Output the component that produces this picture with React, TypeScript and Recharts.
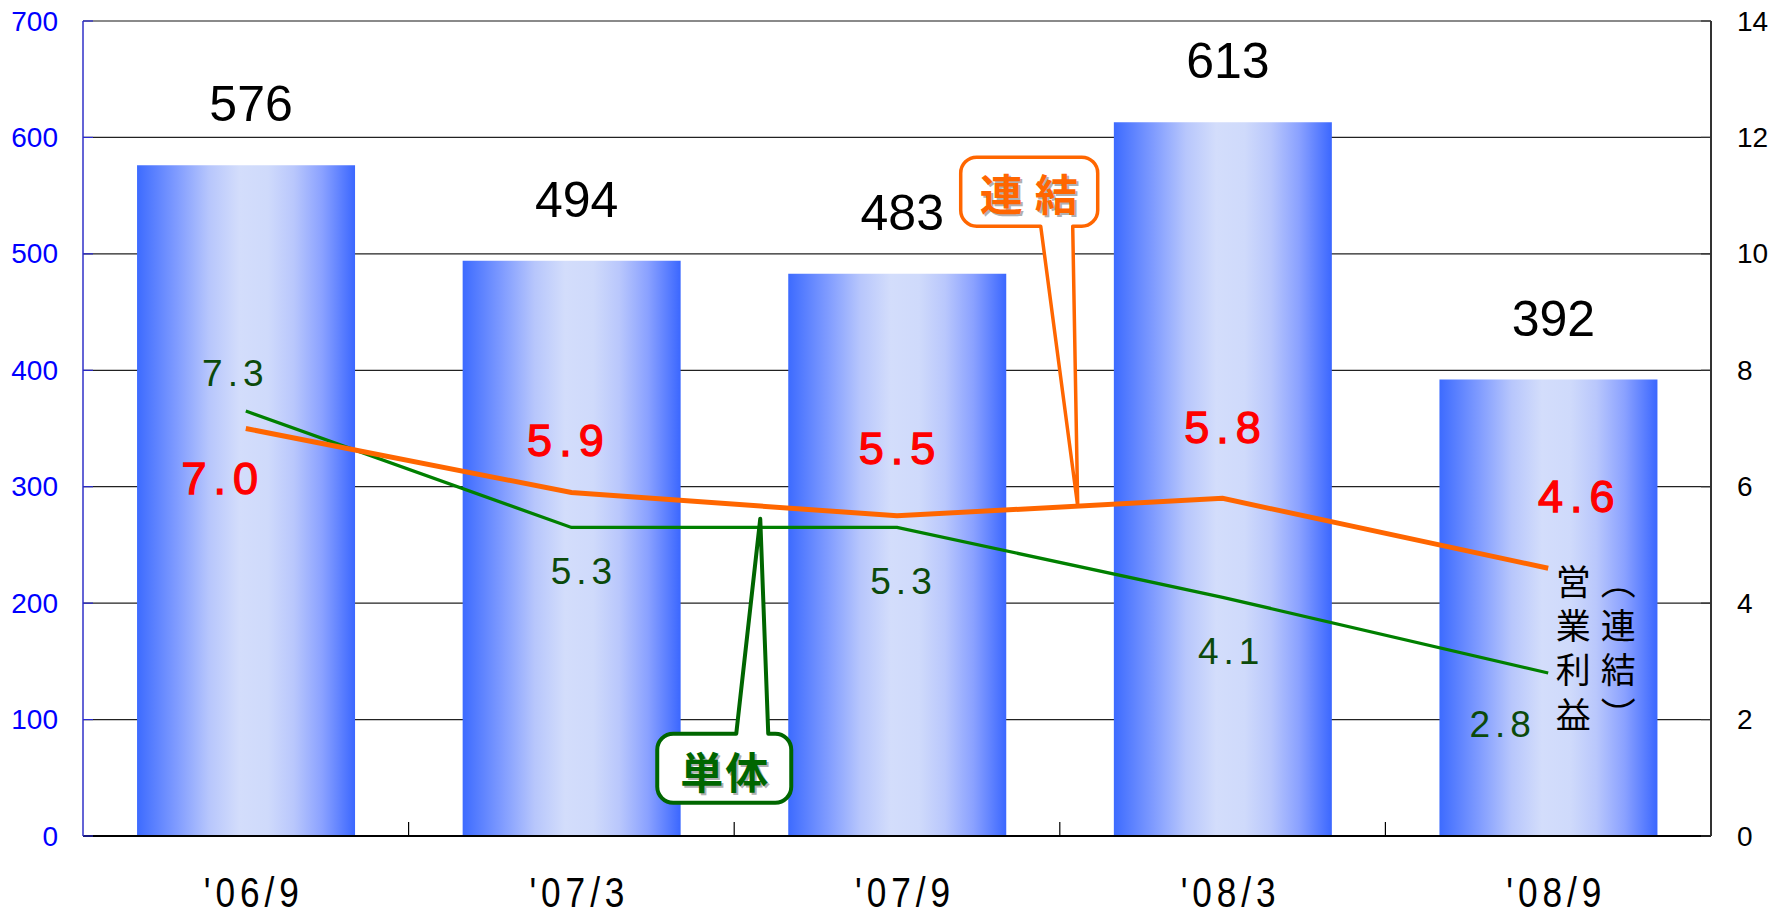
import React from "react";
import {
  Bar,
  CartesianGrid,
  ComposedChart,
  LabelList,
  Line,
  ReferenceDot,
  ReferenceLine,
  XAxis,
  YAxis,
} from "recharts";

// data
const periods = ["'06/9", "'07/3", "'07/9", "'08/3", "'08/9"];
const salesValues = [576, 494, 483, 613, 392];
const consolidatedProfit = [7.0, 5.9, 5.5, 5.8, 4.6];
const standaloneProfit = [7.3, 5.3, 5.3, 4.1, 2.8];
const leftTicks = [0, 100, 200, 300, 400, 500, 600, 700];
const rightTicks = [0, 2, 4, 6, 8, 10, 12, 14];
const verticalTitleLeft = ["営", "業", "利", "益"];
const verticalTitleRight = ["︵", "連", "結", "︶"];

// layout
const W = 1772;
const H = 914;
const TOP = 21;
const LEFT_W = 83;
const RIGHT_W = 61;
const XAXIS_H = 78;
const BAND = (W - LEFT_W - RIGHT_W) / periods.length;

// label placement relative to each point (dx, dy of text centre)
const consolidatedOffsets = [
  [-26, 50],
  [-6, -52],
  [0, -67],
  [0, -71],
  [28, -72],
];
const standaloneOffsets = [
  [-13, -38],
  [10, 44],
  [4, 54],
  [6, 54],
  [-48, 51],
];

const data = periods.map((p, i) => ({
  period: p,
  sales: salesValues[i],
  consolidated: consolidatedProfit[i],
  standalone: standaloneProfit[i],
}));

const SANS = "'Liberation Sans', Arial, sans-serif";
const CJK = "'Noto Sans CJK JP', sans-serif";

const LeftTick = (props: any) => {
  const { x, y, payload } = props;
  return (
    <g>
      <line x1={x + 25} x2={x + 35} y1={y} y2={y} stroke="#2a2ad0" strokeWidth={1.2} />
      <text x={x} y={y} textAnchor="end" dominantBaseline="central" fontFamily={SANS} fontSize={28} fill="#0000ff">
        {payload.value}
      </text>
    </g>
  );
};

const RightTick = (props: any) => {
  const { x, y, payload } = props;
  return (
    <g>
      <line x1={x - 26} x2={x - 36} y1={y} y2={y} stroke="#333" strokeWidth={1.2} />
      <text x={x} y={y} textAnchor="start" dominantBaseline="central" fontFamily={SANS} fontSize={28} fill="#000">
        {payload.value}
      </text>
    </g>
  );
};

const PeriodTick = (props: any) => {
  const { x, y, payload } = props;
  const index = props.index ?? payload.index ?? 0;
  return (
    <g>
      {index < periods.length - 1 && (
        <line x1={x + BAND / 2} x2={x + BAND / 2} y1={y} y2={y - 14} stroke="#000" strokeWidth={1.2} />
      )}
      <g transform={`translate(${x + 8}, ${y + 71}) scale(0.82, 1)`}>
        <text x={0} y={0} textAnchor="middle" fontFamily={SANS} fontSize={43} letterSpacing={6} fill="#000">
          {payload.value}
        </text>
      </g>
    </g>
  );
};

const SalesLabel = (props: any) => {
  const { x, y, width, value } = props;
  return (
    <text x={x + width / 2 + 5} y={y - 44} textAnchor="middle" fontFamily={SANS} fontSize={50} fill="#000">
      {value}
    </text>
  );
};

const makeProfitLabel =
  (offsets: number[][], color: string, size: number, spacing: number, weight: number) => (props: any) => {
    const { x, y, value, index } = props;
    const [dx, dy] = offsets[index] ?? [0, 0];
    return (
      <text
        x={x + dx + spacing / 2}
        y={y + dy}
        textAnchor="middle"
        dominantBaseline="central"
        fontFamily={SANS}
        fontSize={size}
        letterSpacing={spacing}
        fill={color}
        stroke={color}
        strokeWidth={weight}
      >
        {Number(value).toFixed(1)}
      </text>
    );
  };

const ConsolidatedLabel = makeProfitLabel(consolidatedOffsets, "#ff0000", 45, 7, 1.3);
const StandaloneLabel = makeProfitLabel(standaloneOffsets, "#0b4a0b", 37, 5, 0);

// callout box with a pointer; box given relative to the tip
const calloutPath = (
  tx: number,
  ty: number,
  l: number,
  r: number,
  t: number,
  b: number,
  pl: number,
  pr: number,
  pointerAtTop: boolean
) => {
  const rad = 16;
  const L = tx + l;
  const R = tx + r;
  const T = ty + t;
  const B = ty + b;
  const PL = tx + pl;
  const PR = tx + pr;
  if (pointerAtTop) {
    return `M ${L + rad} ${T} H ${PL} L ${tx} ${ty} L ${PR} ${T} H ${R - rad} A ${rad} ${rad} 0 0 1 ${R} ${T + rad} V ${B - rad} A ${rad} ${rad} 0 0 1 ${R - rad} ${B} H ${L + rad} A ${rad} ${rad} 0 0 1 ${L} ${B - rad} V ${T + rad} A ${rad} ${rad} 0 0 1 ${L + rad} ${T} Z`;
  }
  return `M ${L + rad} ${T} H ${R - rad} A ${rad} ${rad} 0 0 1 ${R} ${T + rad} V ${B - rad} A ${rad} ${rad} 0 0 1 ${R - rad} ${B} H ${PR} L ${tx} ${ty} L ${PL} ${B} H ${L + rad} A ${rad} ${rad} 0 0 1 ${L} ${B - rad} V ${T + rad} A ${rad} ${rad} 0 0 1 ${L + rad} ${T} Z`;
};

const CalloutText = ({ x, y, text, color, spacing }: any) => (
  <g fontFamily={CJK} fontWeight={700} fontSize={43} letterSpacing={spacing} textAnchor="middle">
    <text x={x + spacing / 2 + 2} y={y + 2} dominantBaseline="central" fill="#b0b0b0">
      {text}
    </text>
    <text x={x + spacing / 2} y={y} dominantBaseline="central" fill={color}>
      {text}
    </text>
  </g>
);

// tip positions as a fraction of a band past the named period
const RENKETSU_T = 0.555;
const TANTAI_T = 0.58;

const RenketsuCallout = (props: any) => {
  const tx = props.cx + RENKETSU_T * BAND;
  const ty = props.cy;
  return (
    <g>
      <path
        d={calloutPath(tx, ty, -117, 20, -349, -280, -37, -5, false)}
        fill="#fff"
        stroke="#ff6600"
        strokeWidth={3.5}
        strokeLinejoin="round"
      />
      <CalloutText x={tx - 49} y={ty - 314} text="連結" color="#ff6600" spacing={12} />
    </g>
  );
};

const TantaiCallout = (props: any) => {
  const tx = props.cx + TANTAI_T * BAND;
  const ty = props.cy;
  return (
    <g>
      <path
        d={calloutPath(tx, ty, -103, 31, 215, 284, -24, 8, true)}
        fill="#fff"
        stroke="#006600"
        strokeWidth={4}
        strokeLinejoin="round"
      />
      <CalloutText x={tx - 36} y={ty + 251} text="単体" color="#006600" spacing={2} />
    </g>
  );
};

const VerticalTitle = (props: any) => {
  const { cx, cy } = props;
  const rowY = (i: number) => cy + 11 + i * 44.3;
  return (
    <g fontFamily={CJK} fontSize={35} fill="#000" textAnchor="middle">
      {verticalTitleLeft.map((c, i) => (
        <text key={"l" + i} x={cx + 25} y={rowY(i)} dominantBaseline="central">
          {c}
        </text>
      ))}
      {verticalTitleRight.map((c, i) => (
        <text key={"r" + i} x={cx + 70} y={rowY(i)} dominantBaseline="central">
          {c}
        </text>
      ))}
    </g>
  );
};

export default function App() {
  return (
    <div style={{ position: "absolute", left: 0, top: 0, width: W, height: H, background: "#fff" }}>
      <ComposedChart
        width={W}
        height={H}
        data={data}
        margin={{ top: TOP, right: 0, bottom: 0, left: 0 }}
        barCategoryGap="16.6%"
      >
        <defs>
          <linearGradient id="barGrad" x1="0" y1="0" x2="1" y2="0">
            <stop offset="0" stopColor="#3d6bff" />
            <stop offset="0.18" stopColor="#7f9bff" />
            <stop offset="0.33" stopColor="#b7c6fc" />
            <stop offset="0.47" stopColor="#d3ddfb" />
            <stop offset="0.6" stopColor="#cfdafb" />
            <stop offset="0.72" stopColor="#b9c7fc" />
            <stop offset="0.85" stopColor="#8aa1ff" />
            <stop offset="1" stopColor="#3b67ff" />
          </linearGradient>
        </defs>
        <CartesianGrid yAxisId="left" vertical={false} stroke="#222" strokeWidth={1.2} />
        <XAxis
          dataKey="period"
          height={XAXIS_H}
          interval={0}
          tickSize={0}
          tickMargin={0}
          tickLine={false}
          axisLine={{ stroke: "#000", strokeWidth: 2 }}
          tick={<PeriodTick />}
        />
        <YAxis
          yAxisId="left"
          width={LEFT_W}
          domain={[0, 700]}
          ticks={leftTicks}
          interval={0}
          tickSize={0}
          tickMargin={25}
          tickLine={false}
          axisLine={{ stroke: "#3030c8", strokeWidth: 1.5 }}
          tick={<LeftTick />}
        />
        <YAxis
          yAxisId="right"
          orientation="right"
          width={RIGHT_W}
          domain={[0, 14]}
          ticks={rightTicks}
          interval={0}
          tickSize={0}
          tickMargin={26}
          tickLine={false}
          axisLine={{ stroke: "#333", strokeWidth: 2 }}
          tick={<RightTick />}
        />
        <ReferenceLine yAxisId="left" y={700} stroke="#8a8a8a" strokeWidth={2} />
        <Bar yAxisId="left" dataKey="sales" fill="url(#barGrad)" isAnimationActive={false}>
          <LabelList dataKey="sales" content={<SalesLabel />} />
        </Bar>
        <Line
          yAxisId="right"
          type="linear"
          dataKey="standalone"
          stroke="#008000"
          strokeWidth={3.3}
          dot={false}
          activeDot={false}
          isAnimationActive={false}
        >
          <LabelList dataKey="standalone" content={<StandaloneLabel />} />
        </Line>
        <Line
          yAxisId="right"
          type="linear"
          dataKey="consolidated"
          stroke="#ff6600"
          strokeWidth={5}
          dot={false}
          activeDot={false}
          isAnimationActive={false}
        >
          <LabelList dataKey="consolidated" content={<ConsolidatedLabel />} />
        </Line>
        <ReferenceDot
          yAxisId="right"
          x={periods[2]}
          y={consolidatedProfit[2] + RENKETSU_T * (consolidatedProfit[3] - consolidatedProfit[2])}
          shape={<RenketsuCallout />}
        />
        <ReferenceDot yAxisId="right" x={periods[1]} y={5.45} shape={<TantaiCallout />} />
        <ReferenceDot
          yAxisId="right"
          x={periods[4]}
          y={consolidatedProfit[4]}
          shape={<VerticalTitle />}
        />
      </ComposedChart>
    </div>
  );
}
